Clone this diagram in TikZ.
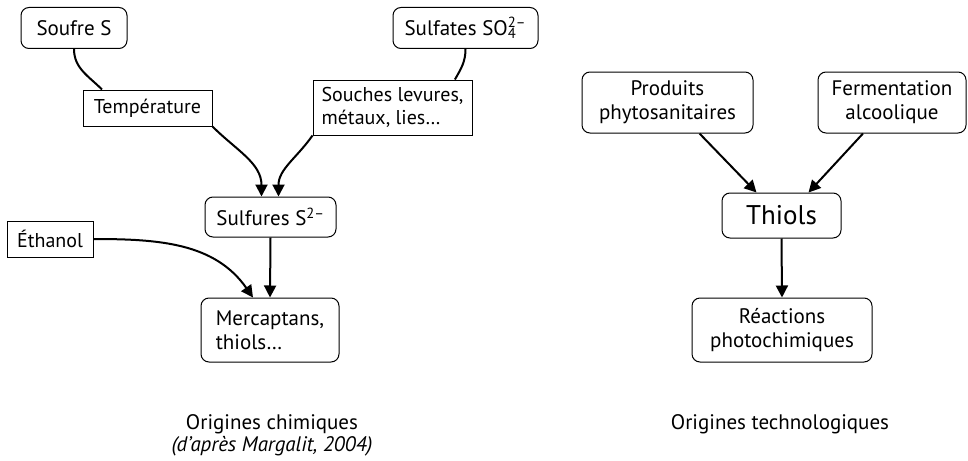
\documentclass[tikz,border=0pt]{standalone}
\usepackage{fontspec}
\setmainfont{PT Sans}
\usetikzlibrary{arrows.meta,calc}

\begin{document}
\begin{tikzpicture}[
    x=1pt, y=1pt,
    box/.style={draw, line width=1pt, rounded corners=8pt, align=center,
        inner sep=0pt, font=\fontsize{21}{24}\selectfont},
    label box/.style={draw, line width=1pt, align=left, inner sep=0pt,
        font=\fontsize{20}{23}\selectfont},
    link/.style={line width=2pt},
    pile/.style={line width=2pt, -{Triangle[length=12pt,width=12pt]}},
    caption/.style={align=center, font=\fontsize{21}{22}\selectfont}
    ]
    \useasboundingbox (0,0) rectangle (968,-460);
    % Origines chimiques
    \node[box, minimum width=106, minimum height=41] (soufre) at (74,-28) {Soufre S};
    \node[box, minimum width=145, minimum height=41] (sulfates) at (465.5,-28)
        {Sulfates SO\rlap{\textsuperscript{2–}}\textsubscript{4}\phantom{\textsuperscript{–}}};
    \node[label box, minimum width=129, minimum height=36] (temp) at (147.5,-108) {Température};
    \node[label box, minimum width=159, minimum height=55] (souches) at (392.5,-107.5)
        {Souches levures,\\métaux, lies…};
    \node[box, minimum width=131, minimum height=40] (sulfures) at (270.5,-217)
        {Sulfures S\textsuperscript{2–}};
    \node[label box, minimum width=86, minimum height=36] (ethanol) at (50,-239) {Éthanol};
    \node[box, align=left, minimum width=138, minimum height=64] (mercaptans) at (270,-330)
        {Mercaptans,\\thiols…};
    % Origines technologiques
    \node[box, minimum width=171, minimum height=61] (produits) at (667.5,-102.5)
        {Produits\\phytosanitaires};
    \node[box, minimum width=148, minimum height=61] (fermentation) at (892,-102.5)
        {Fermentation\\alcoolique};
    \node[box, font=\fontsize{27}{30}\selectfont, minimum width=119, minimum height=45]
        (thiols) at (781.5,-215.5) {Thiols};
    \node[box, minimum width=180, minimum height=64] (reactions) at (782,-330)
        {Réactions\\photochimiques};
    % Legendes
    \node[caption] (chimie) at (272,-435) {Origines chimiques\\\textit{(d’après Margalit, 2004)}};
    \node[caption] (techno) at (780,-424) {Origines technologiques};
    % Lines
    \draw[link] (soufre.south) to[out=-90,in=135]
        ($(temp.north west)!0.15!(temp.north east)$);
    \draw[pile] (temp.south east) to[out=-45,in=90] ($(sulfures.north)+(-9,0)$);
    \draw[link] (sulfates.south) to[out=-90,in=60]
        ($(souches.north west)!0.89!(souches.north east)$);
    \draw[pile] (souches.south west) to[out=-125,in=90] ($(sulfures.north)+(8,0)$);
    \draw[pile] (ethanol.east) to[out=0,in=125] ($(mercaptans.north)+(-17,0)$);
    \draw[pile] (sulfures.south) -- (mercaptans.north);
    \draw[pile] ($(produits.south)+(32,0)$) -- ($(thiols.north west)+(35,0)$);
    \draw[pile] ($(fermentation.south)+(-29,0)$) -- ($(thiols.north east)+(-33,0)$);
    \draw[pile] (thiols.south) -- (reactions.north);
\end{tikzpicture}
\end{document}
